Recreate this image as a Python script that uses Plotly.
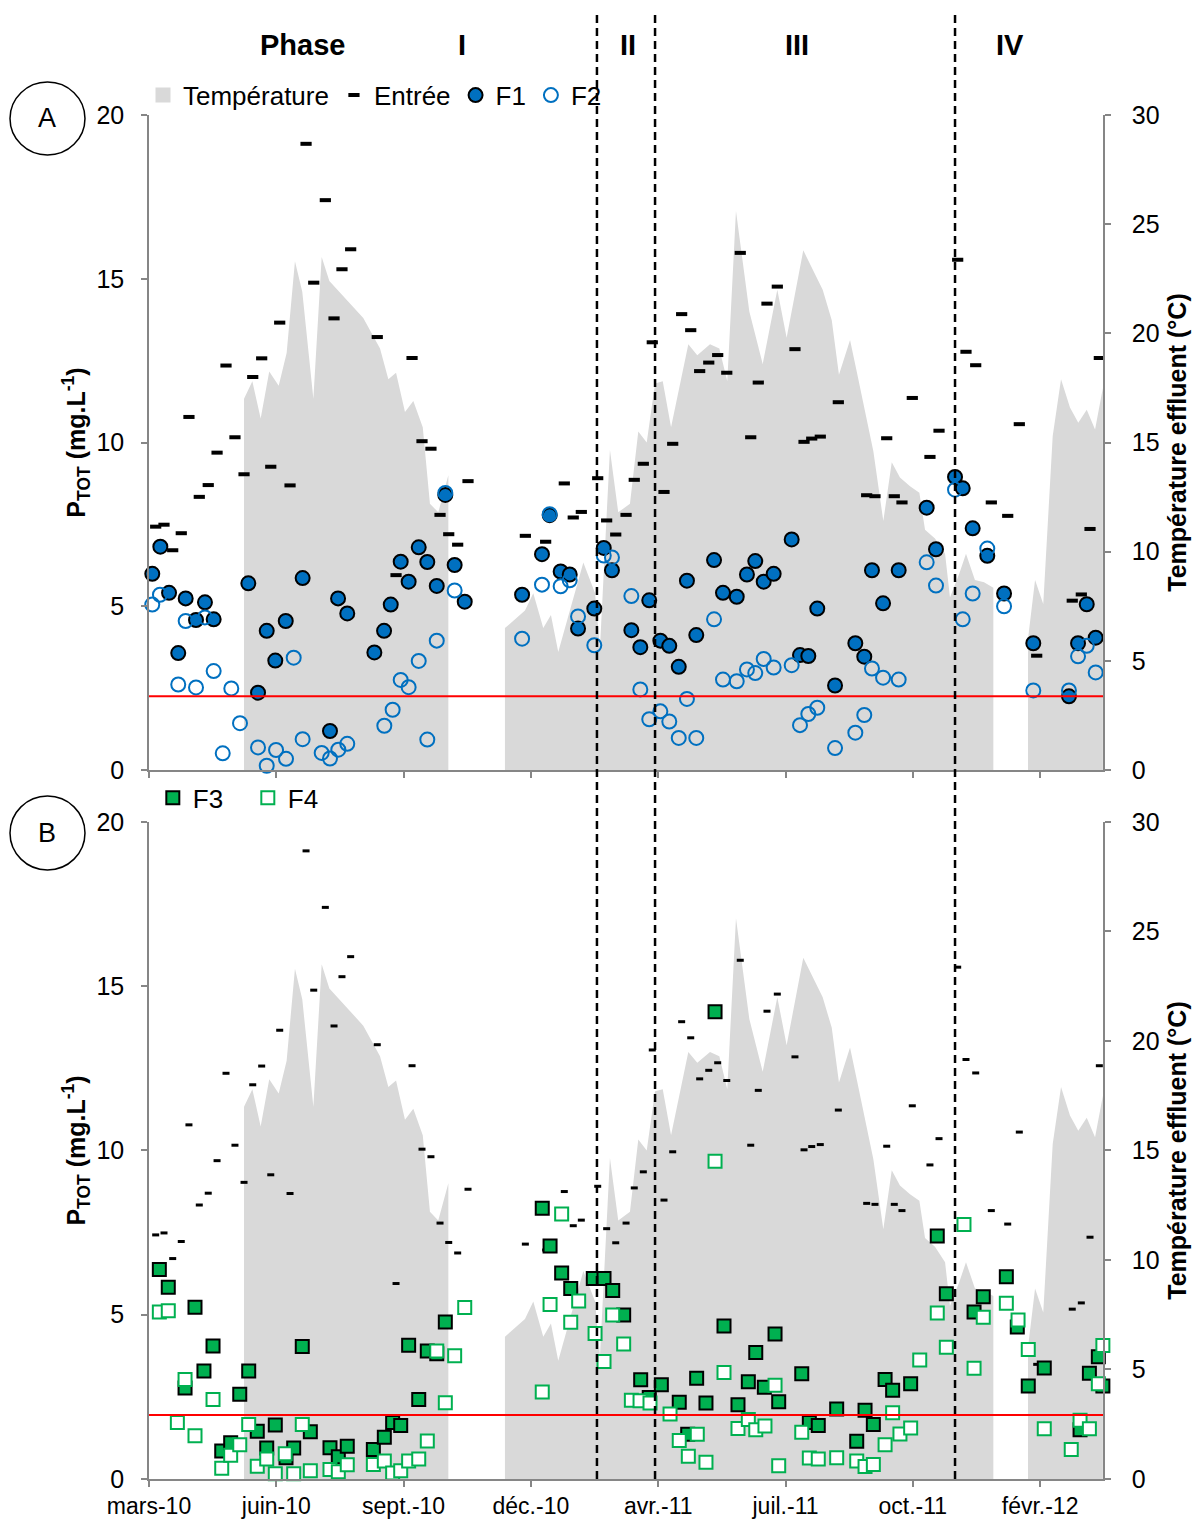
import pandas as pd
import plotly.graph_objects as go

START = pd.Timestamp("2010-03-01")

# ---- data (x = days since 1 March 2010) ----
entree_days = [5.3, 11.9, 18.8, 25.6, 31.7, 39.9, 47.0, 54.0, 61.1, 68.2,
               75.4, 82.3, 89.4, 96.6, 103.7, 111.9, 124.6, 130.7, 139.9, 146.8,
               153.1, 160.0, 181.1, 196.0, 208.7, 216.6, 223.7, 230.9, 237.8, 244.9,
               253.1, 298.6, 314.7, 329.5, 336.6, 343.0, 356.0, 363.1, 370.3, 378.5,
               385.0, 392.2, 399.3, 408.6, 415.5, 422.6, 429.8, 436.9, 444.1, 451.2,
               458.4, 469.1, 477.4, 483.4, 490.3, 498.5, 512.5, 519.7, 525.8, 532.6,
               546.9, 569.4, 576.0, 585.3, 591.3, 597.4, 605.6, 619.6, 626.8, 641.6,
               648.2, 655.9, 668.3, 681.3, 690.5, 704.3, 732.5, 739.7, 746.6, 754.0]
entree_vals = [7.43, 7.49, 6.71, 7.23, 10.78, 8.34, 8.70, 9.69, 12.35, 10.16,
               9.03, 12.0, 12.57, 9.26, 13.66, 8.69, 19.12, 14.88, 17.40, 13.79,
               15.29, 15.90, 13.22, 5.95, 12.58, 10.04, 9.81, 7.79, 7.2, 6.88,
               8.82, 7.15, 6.97, 8.75, 7.71, 7.88, 8.91, 7.62, 7.19, 7.79,
               8.86, 9.35, 13.06, 8.49, 9.96, 13.92, 13.43, 12.18, 12.44, 12.67,
               12.13, 15.79, 10.16, 11.83, 14.24, 14.76, 12.85, 10.02, 10.12, 10.18,
               11.23, 8.39, 8.36, 10.13, 8.36, 8.17, 11.36, 9.56, 10.36, 15.58,
               12.77, 12.36, 8.17, 7.76, 10.56, 3.49, 5.17, 5.36, 7.36, 12.58]

f1_days = [2.6, 9.0, 15.9, 23.2, 29.1, 37.3, 44.4, 51.3, 78.8, 86.5,
           93.4, 100.2, 108.5, 121.9, 143.6, 150.0, 157.3, 178.8, 186.5, 191.8,
           199.7, 206.0, 214.0, 220.8, 228.3, 235.1, 242.5, 250.5, 296.0, 311.8,
           317.9, 326.6, 333.8, 340.4, 353.3, 360.8, 367.3, 382.7, 389.8, 396.9,
           405.7, 412.8, 420.3, 426.8, 434.2, 448.3, 455.4, 466.3, 474.4, 481.0,
           487.7, 495.6, 509.9, 516.5, 523.1, 530.2, 544.3, 560.4, 567.5, 573.6,
           582.4, 594.8, 617.0, 624.4, 639.5, 645.6, 653.5, 665.1, 678.4, 701.6,
           729.9, 737.1, 744.0, 751.1]
f1_vals = [5.99, 6.82, 5.41, 3.57, 5.24, 4.58, 5.12, 4.60, 5.70, 2.36,
           4.25, 3.34, 4.55, 5.86, 1.19, 5.24, 4.78, 3.59, 4.25, 5.05,
           6.36, 5.75, 6.8, 6.35, 5.62, 8.4, 6.26, 5.14, 5.35, 6.59,
           7.78, 6.06, 5.97, 4.32, 4.93, 6.78, 6.1, 4.27, 3.75, 5.18,
           3.95, 3.79, 3.15, 5.78, 4.12, 6.41, 5.41, 5.29, 5.97, 6.38,
           5.75, 5.99, 7.04, 3.51, 3.48, 4.93, 2.58, 3.87, 3.46, 6.10,
           5.09, 6.10, 8.01, 6.74, 8.95, 8.6, 7.38, 6.54, 5.39, 3.87,
           2.25, 3.87, 5.06, 4.04]

f2_days = [2.6, 8.7, 23.2, 29.1, 37.3, 44.4, 51.3, 58.5, 65.3, 72.2,
           86.5, 93.4, 100.8, 108.7, 114.8, 121.9, 137.0, 143.6, 150.2, 157.3,
           186.7, 193.3, 199.7, 206.0, 214.0, 220.8, 228.3, 235.1, 242.5, 296.0,
           311.8, 317.9, 326.6, 333.8, 340.4, 353.3, 360.8, 367.3, 382.7, 389.8,
           396.9, 405.7, 412.8, 420.3, 426.8, 434.2, 448.3, 455.4, 466.3, 474.4,
           481.0, 487.7, 495.6, 509.9, 516.5, 523.1, 530.2, 544.3, 560.4, 567.5,
           573.6, 582.4, 594.8, 617.0, 624.4, 639.5, 645.6, 653.5, 665.1, 678.4,
           701.6, 729.9, 737.1, 744.0, 751.1]
f2_vals = [5.05, 5.35, 2.61, 4.55, 2.52, 4.66, 3.02, 0.51, 2.49, 1.43,
           0.69, 0.13, 0.61, 0.34, 3.43, 0.94, 0.52, 0.35, 0.62, 0.80,
           1.35, 1.84, 2.75, 2.53, 3.33, 0.93, 3.95, 8.46, 5.48, 4.01,
           5.66, 7.81, 5.61, 5.79, 4.69, 3.81, 6.55, 6.49, 5.31, 2.46,
           1.55, 1.79, 1.48, 0.98, 2.17, 0.98, 4.6, 2.76, 2.71, 3.07,
           2.96, 3.39, 3.13, 3.2, 1.37, 1.71, 1.9, 0.67, 1.14, 1.68,
           3.1, 2.82, 2.76, 6.34, 5.63, 8.56, 4.6, 5.39, 6.76, 5.0,
           2.43, 2.43, 3.47, 3.79, 2.98]

f3_days = [8.2, 15.3, 28.6, 36.5, 43.6, 50.8, 57.7, 64.8, 72.0, 79.1,
           85.9, 93.4, 100.2, 108.7, 114.8, 121.6, 128.0, 143.6, 150.2, 157.3,
           178.0, 186.7, 193.3, 199.7, 206.0, 214.0, 220.8, 228.3, 235.1, 312.0,
           318.2, 327.4, 334.6, 352.5, 361.0, 367.9, 376.6, 390.1, 396.9, 406.5,
           420.7, 427.4, 434.5, 441.9, 449.1, 456.2, 467.3, 475.5, 481.4, 488.2,
           496.7, 499.6, 517.9, 523.9, 531.0, 545.6, 561.5, 568.1, 574.7, 584.0,
           590.0, 604.3, 625.4, 632.6, 654.6, 661.9, 680.2, 688.9, 697.6, 710.3,
           738.7, 746.1, 753.2, 756.8]
f3_vals = [6.38, 5.84, 2.77, 5.23, 3.29, 4.05, 0.85, 1.1, 2.58, 3.29,
           1.45, 0.94, 1.64, 0.65, 0.94, 4.03, 1.44, 0.95, 0.68, 1.0,
           0.9, 1.27, 1.72, 1.63, 4.07, 2.42, 3.9, 3.81, 4.78, 8.24,
           7.09, 6.27, 5.8, 6.1, 6.1, 5.74, 4.99, 3.02, 2.48, 2.87,
           2.34, 1.36, 3.07, 2.31, 14.22, 4.66, 2.26, 2.96, 3.85, 2.79,
           4.41, 2.35, 3.2, 1.72, 1.63, 2.13, 1.15, 2.09, 1.66, 3.03,
           2.7, 2.9, 7.4, 5.64, 5.08, 5.55, 6.16, 4.63, 2.83, 3.38,
           1.5, 3.22, 3.72, 2.83]

f4_days = [8.2, 15.3, 22.5, 28.6, 36.5, 50.8, 57.7, 64.8, 72.0, 79.1,
           85.9, 93.4, 100.2, 108.1, 114.8, 121.6, 128.0, 143.6, 150.2, 157.3,
           178.0, 186.7, 193.3, 199.7, 206.0, 214.0, 220.8, 228.3, 235.1, 242.5,
           250.5, 312.0, 318.2, 327.4, 334.6, 340.9, 353.9, 361.0, 367.9, 376.6,
           382.7, 389.6, 397.5, 413.4, 420.7, 427.9, 435.0, 441.9, 449.1, 456.2,
           467.3, 475.5, 481.4, 488.7, 496.7, 499.6, 517.9, 523.9, 531.0, 545.6,
           561.5, 568.1, 574.7, 584.0, 590.0, 595.8, 604.3, 611.5, 625.4, 632.6,
           646.6, 654.6, 661.9, 680.2, 689.5, 697.6, 710.3, 731.7, 738.7, 746.1,
           753.2, 756.8]
f4_vals = [5.08, 5.12, 1.72, 3.03, 1.32, 2.42, 0.33, 0.72, 1.04, 1.66,
           0.39, 0.61, 0.16, 0.77, 0.16, 1.66, 0.25, 0.29, 0.22, 0.43,
           0.44, 0.55, 0.18, 0.25, 0.55, 0.61, 1.16, 3.9, 2.32, 3.75,
           5.22, 2.65, 5.31, 8.07, 4.77, 5.42, 4.43, 3.58, 4.99, 4.11,
           2.4, 2.38, 2.31, 1.98, 1.17, 0.69, 1.36, 0.51, 9.67, 3.24,
           1.54, 1.81, 1.5, 1.61, 2.85, 0.4, 1.42, 0.64, 0.61, 0.65,
           0.55, 0.38, 0.44, 1.04, 2.02, 1.37, 1.55, 3.62, 5.05, 4.01,
           7.75, 3.37, 4.92, 5.35, 4.84, 3.94, 1.53, 0.9, 1.79, 1.53,
           2.9, 4.06]

# temperature (°C); None marks the gaps in the record
temp_days = [75.4, 82.0, 88.6, 95.4, 102.9, 109.2, 115.8, 121.6, 130.4, 137.0,
             143.1, 170.0, 183.3, 189.9, 196.0, 203.1, 209.7, 217.2, 222.9, 229.5,
             237.5, None,
             282.4, 298.3, 304.9, 312.8, 318.9, 324.7, 344.6, 353.9, 357.8, 365.7,
             372.3, 381.6, 388.2, 394.9, 401.5, 407.6, 414.2, 427.9, 435.0, 445.1,
             452.5, 458.8, 465.7, 476.3, 486.9, 498.5, 505.9, 519.1, 534.5, 541.7,
             547.4, 556.2, 561.5, 574.7, 582.6, 589.3, 595.8, 603.8, 611.2, 615.7,
             623.6, 631.6, 635.5, 642.9, 648.2, 655.3, 662.5, 669.9, None,
             697.4, 703.0, 709.5, 717.0, 723.6, 730.7, 737.3, 744.0, 750.6, 756.8]
temp_vals = [17.0, 17.8, 16.1, 18.25, 17.6, 19.1, 23.3, 21.9, 17.0, 23.5,
             22.4, 20.7, 19.3, 17.9, 18.2, 16.4, 16.9, 15.7, 12.2, 11.8,
             13.5, None,
             6.5, 7.3, 8.1, 6.5, 7.1, 5.4, 9.5, 8.1, 5.6, 14.66,
             11.8, 12.2, 15.5, 15.0, 17.7, 17.8, 15.7, 19.5, 19.0, 19.5,
             19.3, 17.8, 25.6, 21.0, 18.6, 22.0, 19.8, 23.8, 22.0, 20.6,
             18.1, 19.7, 18.25, 14.6, 11.4, 14.1, 13.4, 13.0, 12.7, 11.0,
             10.6, 9.9, 7.9, 9.0, 9.9, 8.7, 8.6, 8.35, None,
             6.0, 8.7, 7.6, 15.3, 17.9, 16.6, 15.9, 16.5, 15.6, 17.5]

limit_a = 2.25
limit_b = 1.95
phase_change_days = [355.4, 401.5, 639.5]
tick_days = [0, 101, 202, 303, 404, 505, 606, 707]
tick_labels = ["mars-10", "juin-10", "sept.-10", "déc.-10", "avr.-11",
               "juil.-11", "oct.-11", "févr.-12"]
phase_labels = ["Phase", "I", "II", "III", "IV"]
phase_label_pos = [0.161, 0.328, 0.502, 0.679, 0.902]
x_end_day = 756.9


def to_dates(days):
    return [START + pd.Timedelta(days=d) for d in days]


def split_segments(days, vals):
    segs, cur_d, cur_v = [], [], []
    for d, v in zip(days, vals):
        if d is None or v is None:
            if cur_d:
                segs.append((cur_d, cur_v))
            cur_d, cur_v = [], []
        else:
            cur_d.append(d)
            cur_v.append(v)
    if cur_d:
        segs.append((cur_d, cur_v))
    return segs


FONT = "Liberation Sans, Arial, sans-serif"
GRAY = "#868686"
BLUE = "#0070C0"
GREEN = "#00B050"
AREA = "#D9D9D9"
TICK_SIZE = 25
LEG_SIZE = 26

fig = go.Figure()

temp_segments = split_segments(temp_days, temp_vals)

for panel, (xa, ya_t, ya_p) in enumerate([("x", "y", "y2"), ("x2", "y3", "y4")]):
    first = panel == 0
    for seg_d, seg_v in temp_segments:
        fig.add_trace(go.Scatter(
            x=to_dates(seg_d), y=seg_v, xaxis=xa, yaxis=ya_t,
            mode="lines", fill="tozeroy", fillcolor=AREA,
            line=dict(width=0, color=AREA), showlegend=False, hoverinfo="skip"))
    if first:
        # legend swatch for the temperature area
        fig.add_trace(go.Scatter(
            x=[None], y=[None], xaxis=xa, yaxis=ya_t, mode="markers",
            name="Température", legend="legend",
            marker=dict(symbol="square", size=15, color=AREA)))
    fig.add_trace(go.Scatter(
        x=to_dates(entree_days), y=entree_vals, xaxis=xa, yaxis=ya_p,
        mode="markers", name="Entrée", showlegend=first, legend="legend",
        marker=dict(symbol="line-ew", size=8 if first else 5,
                    line=dict(width=4 if first else 3, color="black")),
        cliponaxis=False))
    if first:
        fig.add_trace(go.Scatter(
            x=to_dates(f1_days), y=f1_vals, xaxis=xa, yaxis=ya_p, mode="markers",
            name="F1", legend="legend", cliponaxis=False,
            marker=dict(symbol="circle", size=14, color=BLUE,
                        line=dict(width=2, color="black"))))
        fig.add_trace(go.Scatter(
            x=to_dates(f2_days), y=f2_vals, xaxis=xa, yaxis=ya_p, mode="markers",
            name="F2", legend="legend", cliponaxis=False,
            marker=dict(symbol="circle-open", size=14, color=BLUE,
                        line=dict(width=2, color=BLUE))))
    else:
        fig.add_trace(go.Scatter(
            x=to_dates(f3_days), y=f3_vals, xaxis=xa, yaxis=ya_p, mode="markers",
            name="F3", legend="legend2", cliponaxis=False,
            marker=dict(symbol="square", size=13, color=GREEN,
                        line=dict(width=2, color="black"))))
        fig.add_trace(go.Scatter(
            x=to_dates(f4_days), y=f4_vals, xaxis=xa, yaxis=ya_p, mode="markers",
            name="F4", legend="legend2", cliponaxis=False,
            marker=dict(symbol="square", size=13, color="white",
                        line=dict(width=2, color=GREEN))))

x_range = [START, START + pd.Timedelta(days=x_end_day)]
tickvals = to_dates(tick_days)

axis_common = dict(showgrid=False, zeroline=False, showline=True, linecolor=GRAY,
                   linewidth=1.5, ticks="outside", ticklen=6, tickcolor=GRAY,
                   tickwidth=1.5, automargin=False)
y_font = dict(family=FONT, size=TICK_SIZE, color="black")
x_font = dict(family=FONT, size=23, color="black")

dom_a = [0.5198, 1.0]
dom_b = [0.0, 0.4817]

p_title = dict(text="<b>P<sub>TOT</sub> (mg.L<sup>-1</sup>)</b>",
               font=dict(family=FONT, size=25, color="black"), standoff=4)
t_title = dict(text="<b>Température effluent (°C)</b>",
               font=dict(family=FONT, size=25, color="black"), standoff=10)

fig.update_layout(
    width=1195, height=1519,
    margin=dict(l=149, r=92, t=115, b=40, autoexpand=False),
    plot_bgcolor="white", paper_bgcolor="white",
    font=dict(family=FONT, size=LEG_SIZE, color="black"),
    xaxis=dict(domain=[0, 1], anchor="y", range=x_range, tickvals=tickvals,
               ticktext=tick_labels, showticklabels=False,
               tickfont=x_font, **axis_common),
    yaxis=dict(domain=dom_a, anchor="x", side="right", range=[0, 30], dtick=5,
               title=t_title, ticklabelstandoff=16, tickfont=y_font, **axis_common),
    yaxis2=dict(overlaying="y", anchor="x", side="left", range=[0, 20], dtick=5,
                title=p_title, ticklabelstandoff=12, tickfont=y_font, **axis_common),
    xaxis2=dict(domain=[0, 1], anchor="y3", range=x_range, tickvals=tickvals,
                ticktext=tick_labels, tickfont=x_font, ticklabelstandoff=0,
                **axis_common),
    yaxis3=dict(domain=dom_b, anchor="x2", side="right", range=[0, 30], dtick=5,
                title=t_title, ticklabelstandoff=16, tickfont=y_font, **axis_common),
    yaxis4=dict(overlaying="y3", anchor="x2", side="left", range=[0, 20], dtick=5,
                title=p_title, ticklabelstandoff=12, tickfont=y_font, **axis_common),
    legend=dict(orientation="h", x=-0.0063, y=1.0145, xanchor="left", yanchor="middle",
                font=dict(family=FONT, size=LEG_SIZE, color="black"),
                bgcolor="rgba(0,0,0,0)", itemwidth=30),
    legend2=dict(orientation="h", x=0.004, y=0.4993, xanchor="left", yanchor="middle",
                 font=dict(family=FONT, size=LEG_SIZE, color="black"),
                 bgcolor="rgba(0,0,0,0)", itemwidth=30,
                 entrywidth=50, entrywidthmode="pixels"),
    showlegend=True,
)

shapes = []
shapes.append(dict(type="line", xref="x domain", yref="y2", x0=0, x1=1,
                   y0=limit_a, y1=limit_a, line=dict(color="red", width=2)))
shapes.append(dict(type="line", xref="x2 domain", yref="y4", x0=0, x1=1,
                   y0=limit_b, y1=limit_b, line=dict(color="red", width=2)))
for d in phase_change_days:
    xd = START + pd.Timedelta(days=d)
    shapes.append(dict(type="line", xref="x", yref="paper", x0=xd, x1=xd,
                       y0=0, y1=1.0755, line=dict(color="black", width=2.5,
                                                  dash="8px,5px")))
# panel markers A / B
for label, (y0, y1) in [("A", (0.9707, 1.0242)), ("B", (0.4465, 0.5007))]:
    shapes.append(dict(type="circle", xref="paper", yref="paper",
                       x0=-0.1457, x1=-0.0671, y0=y0, y1=y1,
                       line=dict(color="black", width=1.5)))
fig.update_layout(shapes=shapes)

annotations = []
for lab, px in zip(phase_labels, phase_label_pos):
    annotations.append(dict(text=f"<b>{lab}</b>", xref="paper", yref="paper",
                            x=px, y=1.0513, showarrow=False, xanchor="center",
                            yanchor="middle",
                            font=dict(family=FONT, size=29, color="black")))
for label, yc in [("A", 0.9975), ("B", 0.4736)]:
    annotations.append(dict(text=label, xref="paper", yref="paper", x=-0.1064, y=yc,
                            showarrow=False, xanchor="center", yanchor="middle",
                            font=dict(family=FONT, size=27, color="black")))
fig.update_layout(annotations=annotations)

fig.write_html("out.html",
               config={"displayModeBar": False},
               post_script="document.body.style.margin='0px';")
